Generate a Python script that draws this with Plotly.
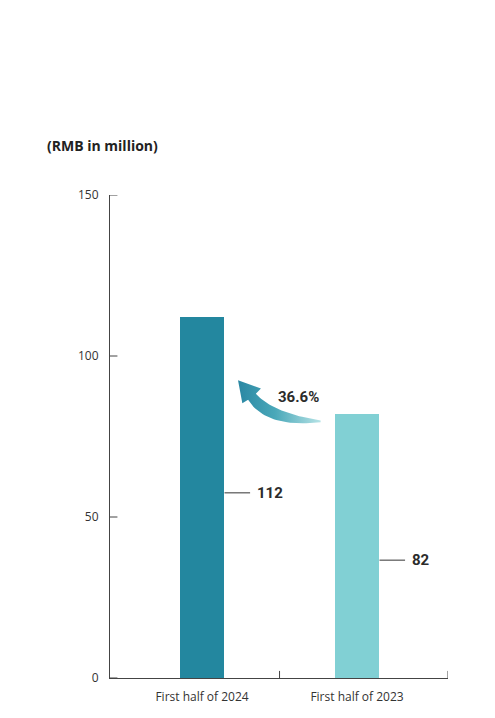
import numpy as np
import plotly.graph_objects as go

# ---- data ----
categories = ["First half of 2024", "First half of 2023"]
values = [112, 82]
bar_colors = ["#23879f", "#81d0d4"]
growth_label = "36.6%"
unit_label = "(RMB in million)"
y_ticks = [0, 50, 100, 150]

x_pos = [0, 1]
bar_w = 0.28

fig = go.Figure()
fig.add_trace(go.Bar(x=x_pos, y=values, width=bar_w, marker=dict(color=bar_colors, line=dict(width=0)),
                     hoverinfo="skip", showlegend=False))

def qbez(p0, p1, p2, n=30):
    t = np.linspace(0, 1, n)[:, None]
    p0, p1, p2 = map(np.array, (p0, p1, p2))
    return (1 - t) ** 2 * p0 + 2 * (1 - t) * t * p1 + t ** 2 * p2

tip = (0.232, 92.5)
head_l = (0.260, 85.3)
head_r = (0.380, 89.9)
low_att = (0.297, 86.4)
up_att = (0.347, 88.3)
lower = qbez(low_att, (0.41, 77.6), (0.765, 79.4))
upper = qbez((0.765, 80.0), (0.455, 82.3), up_att)
pts = [tip, head_l] + [tuple(p) for p in lower] + [tuple(p) for p in upper] + [head_r, tip]
fig.add_trace(go.Scatter(x=[p[0] for p in pts], y=[p[1] for p in pts], mode="lines", fill="toself",
                         line=dict(width=0),
                         fillgradient=dict(type="horizontal",
                                           colorscale=[[0, "#2a87a3"], [0.45, "#4aa8b9"], [1, "#b6e3e6"]]),
                         hoverinfo="skip", showlegend=False))

shapes = []
annotations = []
label_y = [57.5, 36.6]
for xv, v, ly in zip(x_pos, values, label_y):
    x0 = xv + bar_w / 2 + 0.005
    x1 = x0 + 0.165
    shapes.append(dict(type="line", xref="x", yref="y", x0=x0, x1=x1, y0=ly, y1=ly,
                       line=dict(color="#333333", width=1)))
    annotations.append(dict(x=x1 + 0.03, y=ly, xref="x", yref="y", text=f"<b>{v}</b>", showarrow=False,
                            xanchor="left", yanchor="middle",
                            font=dict(family="Roboto, Open Sans, sans-serif", size=15, color="#2b2b2b")))

annotations.append(dict(x=0.62, y=87.3, xref="x", yref="y", text=f"<b>{growth_label}</b>", showarrow=False,
                        xanchor="center", yanchor="middle",
                        font=dict(family="Roboto, Open Sans, sans-serif", size=15, color="#2b2b2b")))
annotations.append(dict(x=-0.193, y=1.1035, xref="paper", yref="paper", text=f"<b>{unit_label}</b>",
                        showarrow=False, xanchor="left", yanchor="middle",
                        font=dict(family="Open Sans, sans-serif", size=14, color="#222222")))

# x-axis boundary ticks
for xb in [0.5, 1.587]:
    shapes.append(dict(type="line", xref="x", yref="y", x0=xb, x1=xb, y0=0, y1=2.2,
                       line=dict(color="#444444", width=1)))
# y-axis inside ticks
for yt in y_ticks:
    shapes.append(dict(type="line", xref="paper", yref="y", x0=0, x1=0.022, y0=yt, y1=yt,
                       line=dict(color="#444444", width=1)))

fig.update_layout(
    width=495, height=718,
    margin=dict(l=110, r=47, t=195, b=40),
    paper_bgcolor="white", plot_bgcolor="white",
    shapes=shapes, annotations=annotations,
    xaxis=dict(range=[-0.594, 1.587], tickvals=x_pos, ticktext=categories, showgrid=False,
               zeroline=False, showline=True, linecolor="#444444", linewidth=1, ticks="",
               ticklabelstandoff=8,
               tickfont=dict(family="Open Sans, sans-serif", size=12, color="#333333")),
    yaxis=dict(range=[0, 150], tickvals=y_ticks, showgrid=False, zeroline=False, showline=True,
               linecolor="#444444", linewidth=1, ticks="", ticklabelstandoff=8,
               tickfont=dict(family="Open Sans, sans-serif", size=12, color="#333333")),
    bargap=0,
)

fig.write_html("out.html")
